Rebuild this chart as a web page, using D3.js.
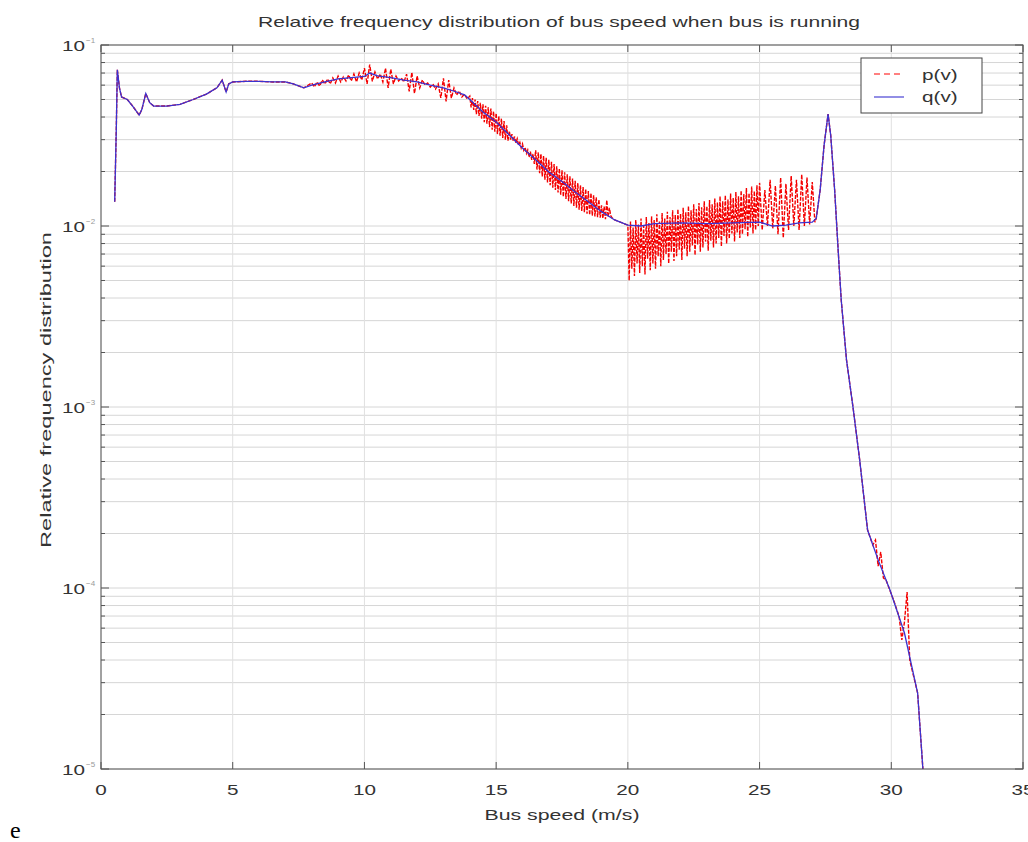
<!DOCTYPE html>
<html>
<head>
<meta charset="utf-8">
<script src="https://cdnjs.cloudflare.com/ajax/libs/d3/7.8.5/d3.min.js"></script>
<style>
  html, body { margin: 0; padding: 0; background: #fff; }
  svg { display: block; font-family: "Liberation Sans", Arial, sans-serif; }
</style>
</head>
<body>
<div id="chart"></div>
<script>
// axis ticks
var xTicks = [0, 5, 10, 15, 20, 25, 30, 35];
var yExponents = [-1, -2, -3, -4, -5];

// q(v): smooth curve (blue, solid)
var qSpeed = [0.52,0.58,0.62,0.70,0.78,1.0,1.2,1.45,1.55,1.7,1.85,2.0,2.5,3.0,3.5,4.0,4.4,4.6,4.75,4.85,
  5.0,5.5,6.0,6.5,7.0,7.3,7.7,8.0,8.5,9.0,9.5,10.0,10.2,10.5,11.0,11.5,12.0,12.5,13.0,13.5,
  13.8,14.0,14.5,15.0,15.5,16.0,16.5,17.0,17.5,18.0,18.5,19.0,19.5,20.0,20.5,21.0,22.0,23.0,24.0,25.0,
  25.5,26.0,26.5,27.0,27.15,27.3,27.45,27.6,27.7,27.85,28.0,28.1,28.3,28.55,28.8,29.1,29.5,29.95,30.5,31.0,31.2];
var qValue = [0.0136,0.034,0.073,0.058,0.0516,0.050,0.046,0.041,0.044,0.054,0.048,0.046,0.046,0.047,0.050,0.0535,0.058,0.064,0.055,0.061,
  0.0625,0.063,0.063,0.0625,0.0625,0.061,0.058,0.060,0.0625,0.065,0.066,0.067,0.070,0.0675,0.066,0.064,0.0625,0.060,0.058,0.055,
  0.053,0.050,0.0426,0.0375,0.0318,0.027,0.0232,0.0199,0.0176,0.0154,0.0136,0.0120,0.0108,0.0101,0.0100,0.0103,0.0104,0.0103,0.0104,0.0105,
  0.0100,0.0101,0.0104,0.0105,0.0110,0.0158,0.0280,0.0415,0.0318,0.0158,0.0067,0.0039,0.00182,0.00099,0.00051,0.000209,0.000143,0.0000975,0.0000564,0.0000263,0.0000100];

// p(v): where it wiggles away from q, read bin by bin
var pBandStart = [8.0, 14.0, 20.0, 25.0, 29.3];
var pBandStep  = [0.1, 0.05, 0.05, 0.1, 0.1];
var pBand1 = [0.0617,0.0586,0.0625,0.0593,0.0641,0.0609,0.0649,0.0609,0.0658,0.0617,
  0.0674,0.0625,0.0666,0.0633,0.0683,0.0633,0.0692,0.0625,0.0701,0.0641,
  0.0745,0.0610,0.0780,0.0630,0.0710,0.0649,0.0692,0.0625,0.0745,0.0580,
  0.0735,0.0609,0.0674,0.0633,0.0658,0.0625,0.0690,0.0555,0.0705,0.0540,
  0.0674,0.0579,0.0641,0.0601,0.0617,0.0586,0.0609,0.0571,0.0609,0.0510,
  0.0655,0.0488,0.0640,0.0509,0.0579,0.0529,0.0557,0.0516,0.0536,0.0503];
var pBand2 = [0.0522,0.0452,0.0509,0.0438,0.0500,0.0415,0.0490,0.0405,0.0480,0.0392,
  0.0470,0.0375,0.0462,0.0368,0.0452,0.0352,0.0446,0.0340,0.0430,0.0332,
  0.0420,0.0322,0.0405,0.0315,0.0392,0.0307,0.0380,0.0300,0.0360,0.0296,
  0.0335,0.0300,0.0322,0.0295,0.0312,0.0287,0.0303,0.0280,0.0290,0.0270,
  0.0284,0.0262,0.0272,0.0252,0.0263,0.0240,0.0258,0.0232,0.0250,0.0220,
  0.0262,0.0205,0.0255,0.0196,0.0250,0.0188,0.0244,0.0180,0.0238,0.0174,
  0.0232,0.0168,0.0226,0.0163,0.0220,0.0158,0.0214,0.0153,0.0208,0.0149,
  0.0203,0.0145,0.0198,0.0141,0.0193,0.0137,0.0188,0.0133,0.0183,0.0129,
  0.0178,0.0126,0.0173,0.0123,0.0168,0.0121,0.0164,0.0119,0.0160,0.0117,
  0.0156,0.0115,0.0152,0.0114,0.0148,0.0113,0.0144,0.0112,0.0140,0.0111,
  0.0130,0.0110,0.0128,0.0109,0.0139,0.0112,0.0126,0.0114,0.0111];
var pBand3 = [0.0101,0.0050,0.0106,0.0058,0.0098,0.0053,0.0108,0.0062,0.0102,0.0055,
  0.0110,0.0060,0.0100,0.0054,0.0112,0.0066,0.0104,0.0057,0.0113,0.0062,
  0.0108,0.0058,0.0116,0.0068,0.0106,0.0060,0.0118,0.0065,0.0110,0.0070,
  0.0120,0.0062,0.0112,0.0072,0.0122,0.0064,0.0115,0.0068,0.0124,0.0074,
  0.0117,0.0065,0.0126,0.0075,0.0119,0.0068,0.0129,0.0072,0.0122,0.0078,
  0.0132,0.0069,0.0124,0.0079,0.0134,0.0072,0.0127,0.0076,0.0137,0.0082,
  0.0129,0.0073,0.0139,0.0083,0.0132,0.0076,0.0142,0.0080,0.0135,0.0086,
  0.0146,0.0077,0.0137,0.0088,0.0148,0.0080,0.0140,0.0085,0.0151,0.0091,
  0.0143,0.0082,0.0154,0.0092,0.0146,0.0086,0.0157,0.0090,0.0150,0.0096,
  0.0162,0.0087,0.0152,0.0098,0.0165,0.0091,0.0156,0.0095,0.0168,0.0100];
var pBand4 = [0.0173,0.0095,0.0158,0.0100,0.0180,0.0097,0.0167,0.0090,0.0185,0.0086,
  0.0171,0.0095,0.0189,0.0100,0.0180,0.0095,0.0193,0.0100,0.0185,0.0102,
  0.0175,0.0105];
var pBand5 = [0.0001728,0.0001841,0.0001322,0.0001581,0.0001136,0.0001107,0.0001013,0.0000927,0.0000848,0.0000766,
  0.0000692,0.0000516,0.0000649,0.0000950,0.0000400];

var W = 1028, H = 842;
var plot = { left: 101, right: 1023, top: 45, bottom: 769 };
var sx = 1.38; // text in the picture is drawn wide

var svg = d3.select("#chart").append("svg")
  .attr("width", W).attr("height", H);
svg.append("rect").attr("width", W).attr("height", H).attr("fill", "#fff");

var defs = svg.append("defs");
defs.append("filter").attr("id", "soft")
  .append("feGaussianBlur").attr("stdDeviation", 0.5);
defs.append("clipPath").attr("id", "clip").append("rect")
  .attr("x", plot.left).attr("y", plot.top)
  .attr("width", plot.right - plot.left).attr("height", plot.bottom - plot.top);

var x = d3.scaleLinear().domain([0, 35]).range([plot.left, plot.right]);
var y = d3.scaleLog().domain([1e-5, 1e-1]).range([plot.bottom, plot.top]);

// minor + major log ticks
var yAll = [];
for (var e = -5; e < -1; e++) {
  for (var m = 1; m < 10; m++) yAll.push(m * Math.pow(10, e));
}
yAll.push(1e-1);

// grid
svg.append("g").selectAll("line").data(yAll).enter().append("line")
  .attr("x1", plot.left).attr("x2", plot.right)
  .attr("y1", function(d){ return y(d); }).attr("y2", function(d){ return y(d); })
  .attr("stroke", "#d6d6d6").attr("stroke-width", 1);
svg.append("g").selectAll("line").data(xTicks).enter().append("line")
  .attr("x1", function(d){ return x(d); }).attr("x2", function(d){ return x(d); })
  .attr("y1", plot.top).attr("y2", plot.bottom)
  .attr("stroke", "#e0e0e0").attr("stroke-width", 1);

// p = q outside the wiggly bands, band values inside
var pPoints = [];
var bands = [pBand1, pBand2, pBand3, pBand4, pBand5];
var ranges = [];
bands.forEach(function(vals, b) {
  vals.forEach(function(v, i) {
    pPoints.push({ s: Math.round((pBandStart[b] + i * pBandStep[b]) * 100) / 100, v: v });
  });
  ranges.push([pBandStart[b], pBandStart[b] + (vals.length - 1) * pBandStep[b]]);
});
qSpeed.forEach(function(s, i) {
  var inBand = ranges.some(function(r){ return s >= r[0] - 1e-6 && s <= r[1] + 1e-6; });
  if (!inBand) pPoints.push({ s: s, v: qValue[i] });
});
pPoints.sort(function(a, b){ return a.s - b.s; });
var qPoints = qSpeed.map(function(s, i){ return { s: s, v: qValue[i] }; });

var line = d3.line().x(function(d){ return x(d.s); }).y(function(d){ return y(d.v); });
var lines = svg.append("g").attr("clip-path", "url(#clip)").append("g").attr("filter", "url(#soft)");
lines.append("path").datum(pPoints).attr("d", line)
  .attr("fill", "none").attr("stroke", "#f40000").attr("stroke-width", 1.4)
  .attr("stroke-dasharray", "4,1.5");
lines.append("path").datum(qPoints).attr("d", line)
  .attr("fill", "none").attr("stroke", "#3a32d0").attr("stroke-width", 1.3);

// box and ticks
svg.append("rect").attr("x", plot.left).attr("y", plot.top)
  .attr("width", plot.right - plot.left).attr("height", plot.bottom - plot.top)
  .attr("fill", "none").attr("stroke", "#555").attr("stroke-width", 1);

var ticks = svg.append("g").attr("stroke", "#555").attr("stroke-width", 1);
xTicks.forEach(function(t) {
  ticks.append("line").attr("x1", x(t)).attr("x2", x(t)).attr("y1", plot.bottom).attr("y2", plot.bottom - 7);
  ticks.append("line").attr("x1", x(t)).attr("x2", x(t)).attr("y1", plot.top).attr("y2", plot.top + 7);
});
yAll.forEach(function(t) {
  var major = Math.abs(Math.log10(t) - Math.round(Math.log10(t))) < 1e-9;
  var len = major ? 8 : 4;
  ticks.append("line").attr("x1", plot.left).attr("x2", plot.left + len).attr("y1", y(t)).attr("y2", y(t));
  ticks.append("line").attr("x1", plot.right).attr("x2", plot.right - len).attr("y1", y(t)).attr("y2", y(t));
});

function wideText(px, py, str, size, anchor, rot) {
  var g = svg.append("g").attr("transform", "translate(" + px + "," + py + ")" + (rot ? " rotate(" + rot + ")" : "") + " scale(" + sx + ",1)");
  return g.append("text").attr("text-anchor", anchor).attr("font-size", size).attr("fill", "#333").text(str);
}

// tick labels
xTicks.forEach(function(t) { wideText(x(t), 795, String(t), 15, "middle"); });
yExponents.forEach(function(e) {
  var py = y(Math.pow(10, e));
  wideText(plot.left - 16, py + 6, "10", 15, "end");
  svg.append("text").attr("x", plot.left - 15).attr("y", py - 2)
    .attr("font-size", 8).attr("fill", "#999").text("\u2212" + (-e));
});

// titles
svg.append("text").attr("x", 559).attr("y", 27).attr("text-anchor", "middle")
  .attr("font-size", 15).attr("fill", "#333")
  .attr("textLength", 602).attr("lengthAdjust", "spacingAndGlyphs")
  .text("Relative frequency distribution of bus speed when bus is running");
svg.append("text").attr("x", 562).attr("y", 820).attr("text-anchor", "middle")
  .attr("font-size", 15).attr("fill", "#333")
  .attr("textLength", 155).attr("lengthAdjust", "spacingAndGlyphs")
  .text("Bus speed (m/s)");
svg.append("text").attr("transform", "translate(51,390) rotate(-90)")
  .attr("text-anchor", "middle").attr("font-size", 15).attr("fill", "#333")
  .attr("textLength", 316).attr("lengthAdjust", "spacingAndGlyphs")
  .text("Relative frequency distribution");

svg.append("text").attr("x", 10).attr("y", 838)
  .style("font-family", "'Liberation Serif', 'DejaVu Serif', serif")
  .style("font-size", "24px").attr("fill", "#000").text("e");

// legend
var leg = svg.append("g");
leg.append("rect").attr("x", 861).attr("y", 58).attr("width", 121).attr("height", 55)
  .attr("fill", "#fff").attr("stroke", "#444").attr("stroke-width", 1);
leg.append("line").attr("x1", 874).attr("x2", 904).attr("y1", 74).attr("y2", 74)
  .attr("stroke", "#ff0000").attr("stroke-width", 1).attr("stroke-dasharray", "6,4");
leg.append("line").attr("x1", 874).attr("x2", 904).attr("y1", 97).attr("y2", 97)
  .attr("stroke", "#3a32d0").attr("stroke-width", 1.1);
wideText(922, 80, "p(v)", 15, "start");
wideText(922, 102, "q(v)", 15, "start");
</script>
</body>
</html>
